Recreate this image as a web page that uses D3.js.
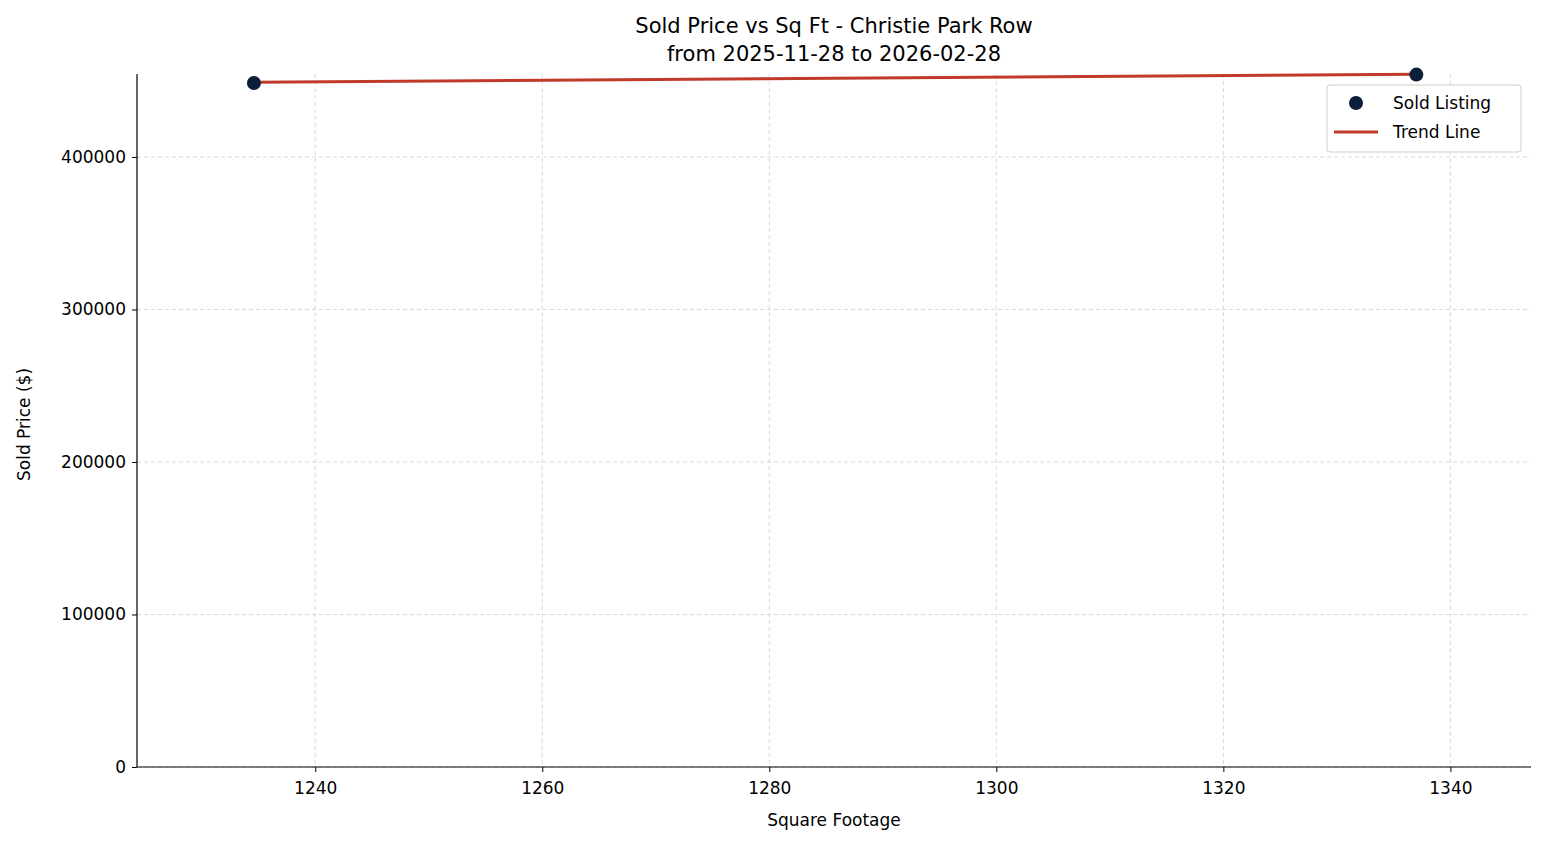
<!DOCTYPE html>
<html><head><meta charset="utf-8">
<script src="https://cdn.jsdelivr.net/npm/d3@7"></script>
<style>body{margin:0;background:#fff;font-family:"DejaVu Sans",sans-serif}</style>
</head><body><svg id="c" width="1547" height="845"></svg>
<script>
const sqft = [1234.6, 1337.0];
const price = [448500, 454000];
const trendX = [1234.6, 1337.0];
const trendY = [449000, 454200];
const xTicks = [1240, 1260, 1280, 1300, 1320, 1340];
const yTicks = [0, 100000, 200000, 300000, 400000];

const svg = d3.select("#c");
const L=137, R=1531, T=74, B=767;
const x = d3.scaleLinear().domain([1224.3, 1347.1]).range([L, R]);
const y = d3.scaleLinear().domain([0, 454400]).range([B, T]);

const g = svg.append("g");
g.selectAll(".gx").data(xTicks).enter().append("line")
 .attr("x1",d=>x(d)).attr("x2",d=>x(d)).attr("y1",T).attr("y2",B)
 .attr("stroke","#cfcfcf").attr("stroke-dasharray","4,3").attr("stroke-width",0.8);
g.selectAll(".gy").data(yTicks).enter().append("line")
 .attr("x1",L).attr("x2",R).attr("y1",d=>y(d)).attr("y2",d=>y(d))
 .attr("stroke","#cfcfcf").attr("stroke-dasharray","4,3").attr("stroke-width",0.8);

const xa = svg.append("g").attr("transform",`translate(0,${B})`)
 .call(d3.axisBottom(x).tickValues(xTicks).tickSize(5).tickPadding(10).tickFormat(d3.format("d")));
const ya = svg.append("g").attr("transform",`translate(${L},0)`)
 .call(d3.axisLeft(y).tickValues(yTicks).tickSize(5).tickPadding(6).tickFormat(d3.format("d")));
[xa,ya].forEach(a=>{a.attr("font-size",null).attr("font-family",null);
 a.selectAll("text").style("font-size","17px").attr("fill","#000").style("font-family","DejaVu Sans");
 a.select(".domain").attr("stroke","#000").attr("stroke-width",1.2);});
xa.select(".domain").attr("d",`M${L},0H${R}`);
ya.select(".domain").attr("d",`M0,${B}V${T}`);

svg.append("path").datum(trendX.map((d,i)=>[d,trendY[i]]))
 .attr("d",d3.line().x(d=>x(d[0])).y(d=>y(d[1])))
 .attr("stroke","#c0392b").attr("stroke-width",3).attr("fill","none");
svg.selectAll(".pt").data(sqft).enter().append("circle")
 .attr("cx",d=>x(d)).attr("cy",(d,i)=>y(price[i])).attr("r",7).attr("fill","#0b1f3a");

const t = svg.append("text").attr("text-anchor","middle").style("font-size","21px");
t.append("tspan").attr("x",(L+R)/2).attr("y",33).text("Sold Price vs Sq Ft - Christie Park Row");
t.append("tspan").attr("x",(L+R)/2).attr("y",61).text("from 2025-11-28 to 2026-02-28");
svg.append("text").attr("x",(L+R)/2).attr("y",826).attr("text-anchor","middle").style("font-size","17px").text("Square Footage");
svg.append("text").attr("transform",`translate(30,${(T+B)/2+4}) rotate(-90)`).attr("text-anchor","middle").style("font-size","17px").text("Sold Price ($)");

const lg = svg.append("g");
lg.append("rect").attr("x",1327).attr("y",85).attr("width",194).attr("height",67).attr("rx",3)
 .attr("fill","#fff").attr("fill-opacity",0.85).attr("stroke","#ccc");
lg.append("circle").attr("cx",1356).attr("cy",103).attr("r",7).attr("fill","#0b1f3a");
lg.append("line").attr("x1",1334).attr("x2",1378).attr("y1",132).attr("y2",132).attr("stroke","#c0392b").attr("stroke-width",3);
lg.append("text").attr("x",1393).attr("y",109).style("font-size","17px").text("Sold Listing");
lg.append("text").attr("x",1393).attr("y",138).style("font-size","17px").text("Trend Line");
</script></body></html>
